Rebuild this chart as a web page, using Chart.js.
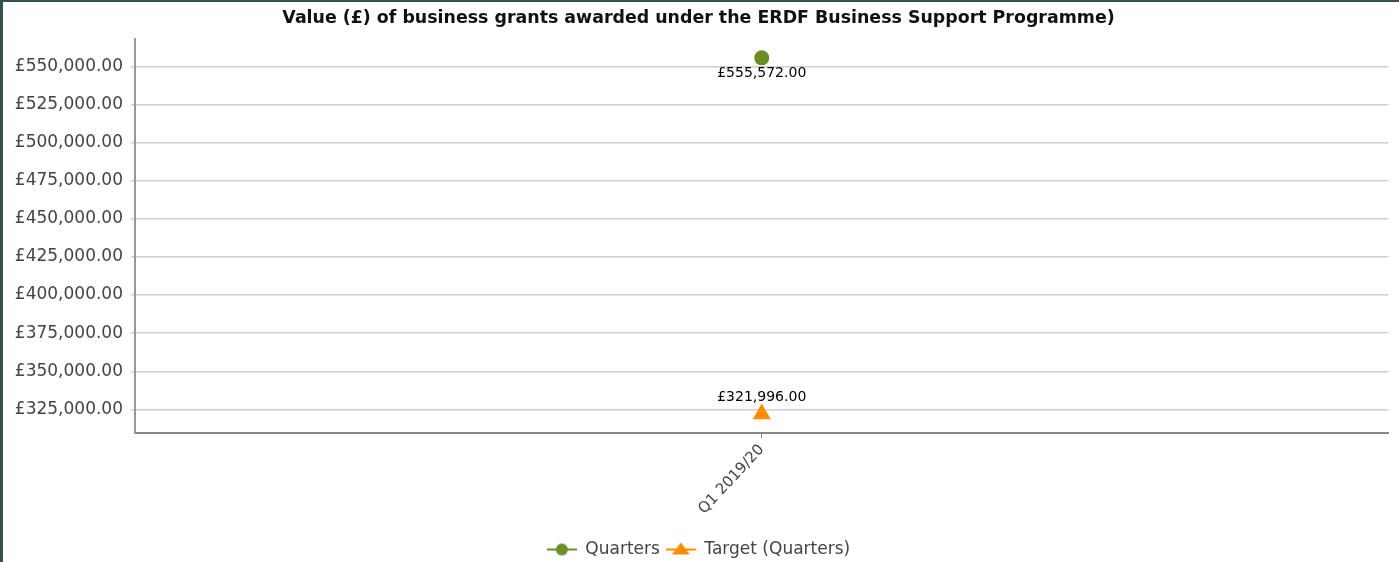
<!DOCTYPE html>
<html>
<head>
<meta charset="utf-8">
<script src="https://cdn.jsdelivr.net/npm/chart.js@4.4.1/dist/chart.umd.min.js"></script>
<style>
  html, body { margin: 0; padding: 0; background: #fff; overflow: hidden; }
  .chartBox {
    position: absolute; left: 0; top: 0;
    width: 1396px; height: 560px;
    border-top: 2px solid #34524f;
    border-left: 3px solid #34524f;
    background: #fff;
  }
</style>
</head>
<body>
<div class="chartBox"><canvas id="myChart" width="1396" height="560"></canvas></div>
<script>
// data
const categories = ['Q1 2019/20'];
const quarters = [555572];
const targetQuarters = [321996];
const seriesNames = ['Quarters', 'Target (Quarters)'];
const seriesColors = ['#6b8e23', '#ff8c00'];
const yTicks = [325000, 350000, 375000, 400000, 425000, 450000, 475000, 500000, 525000, 550000];

const FONT = "'DejaVu Sans', Verdana, sans-serif";

function money(v) {
    return '£' + Number(v).toLocaleString('en-GB', { minimumFractionDigits: 2, maximumFractionDigits: 2 });
}

// small line + marker icons for the legend
function legendIcon(color, shape) {
    const c = document.createElement('canvas');
    c.width = 30; c.height = 16;
    const g = c.getContext('2d');
    g.strokeStyle = color;
    g.lineWidth = 2;
    g.beginPath(); g.moveTo(0, 8); g.lineTo(30, 8); g.stroke();
    g.fillStyle = color;
    g.beginPath();
    if (shape === 'circle') {
        g.arc(15, 8, 6, 0, Math.PI * 2);
    } else {
        g.moveTo(15, 1); g.lineTo(24, 13); g.lineTo(6, 13); g.closePath();
    }
    g.fill();
    return c;
}
const legendIcons = [legendIcon(seriesColors[0], 'circle'), legendIcon(seriesColors[1], 'triangle')];

// value labels next to each point
const valueLabels = {
    id: 'valueLabels',
    afterDatasetsDraw(chart) {
        const ctx = chart.ctx;
        ctx.save();
        ctx.font = '14px ' + FONT;
        ctx.fillStyle = '#000';
        ctx.textAlign = 'center';
        ctx.textBaseline = 'middle';
        chart.data.datasets.forEach((ds, i) => {
            const meta = chart.getDatasetMeta(i);
            meta.data.forEach((pt, j) => {
                const dy = i === 0 ? 16 : -17;
                ctx.fillText(money(ds.data[j]), pt.x, pt.y + dy);
            });
        });
        ctx.restore();
    }
};

const chartData = {
    labels: categories,
    datasets: [{
        label: seriesNames[0],
        data: quarters,
        borderColor: seriesColors[0],
        backgroundColor: seriesColors[0],
        borderWidth: 2,
        pointStyle: 'circle',
        pointRadius: 7.5,
        pointBorderWidth: 0
    }, {
        label: seriesNames[1],
        data: targetQuarters,
        borderColor: seriesColors[1],
        backgroundColor: seriesColors[1],
        borderWidth: 2,
        pointStyle: 'triangle',
        pointRadius: 10.5,
        pointBorderWidth: 0
    }]
};

const config = {
    type: 'line',
    data: chartData,
    options: {
        responsive: false,
        animation: false,
        layout: { padding: { left: 0, right: 5, top: 0, bottom: -6 } },
        scales: {
            x: {
                offset: true,
                grid: { drawOnChartArea: false, drawTicks: true, tickLength: 5, color: '#888' },
                border: { color: '#888', width: 2 },
                ticks: {
                    minRotation: 47, maxRotation: 47,
                    color: '#444',
                    font: { family: FONT, size: 15 }
                },
                afterFit(scale) { scale.height = 102; }
            },
            y: {
                min: 309500,
                max: 568000,
                grid: { color: '#cfcfcf', lineWidth: 1.5, tickLength: 4 },
                border: { color: '#999', width: 2 },
                ticks: {
                    padding: 8,
                    color: '#444',
                    font: { family: FONT, size: 17 },
                    callback: v => money(v)
                },
                afterBuildTicks(scale) { scale.ticks = yTicks.map(v => ({ value: v })); },
                afterFit(scale) { scale.width = 132; }
            }
        },
        plugins: {
            tooltip: { enabled: false },
            title: {
                display: true,
                text: 'Value (£) of business grants awarded under the ERDF Business Support Programme)',
                color: '#111',
                font: { family: FONT, size: 17.4, weight: 'bold', lineHeight: 1.2 },
                padding: { top: 6, bottom: 10 }
            },
            legend: {
                position: 'bottom',
                labels: {
                    usePointStyle: true,
                    pointStyleWidth: 30,
                    padding: 6,
                    color: '#444',
                    font: { family: FONT, size: 17, lineHeight: 1 },
                    generateLabels: chart => chart.data.datasets.map((ds, i) => ({
                        text: ds.label,
                        pointStyle: legendIcons[i],
                        datasetIndex: i,
                        hidden: false,
                        fontColor: '#444',
                        lineWidth: 0,
                        strokeStyle: 'transparent',
                        fillStyle: 'transparent'
                    }))
                }
            }
        }
    },
    plugins: [valueLabels]
};

// Render chart
const myChart = new Chart(document.getElementById('myChart'), config);
</script>
</body>
</html>
